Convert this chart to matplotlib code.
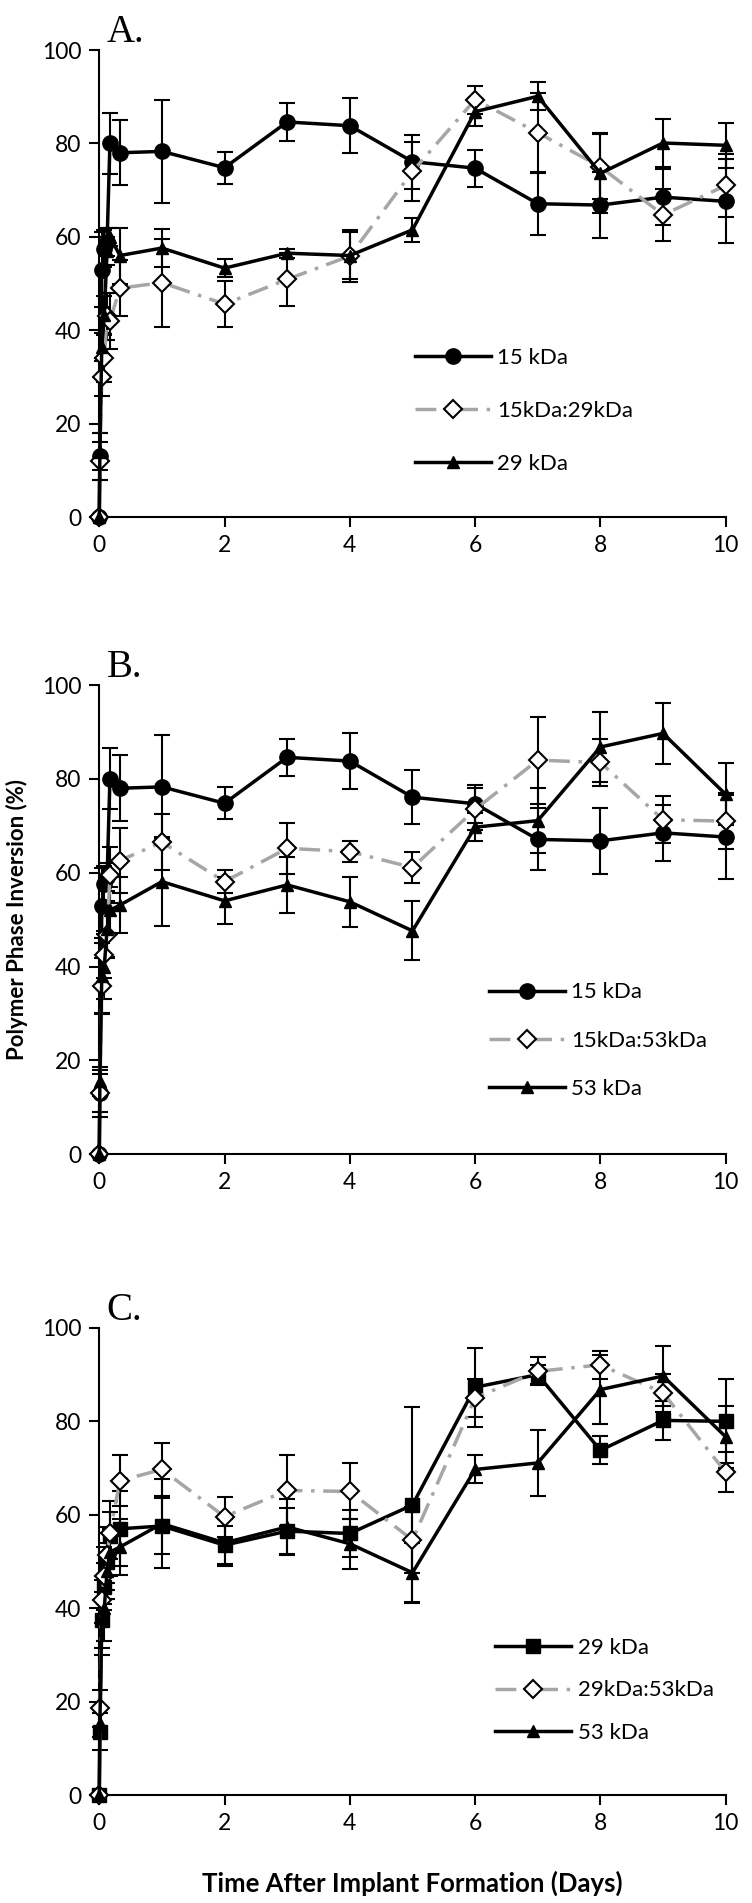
import matplotlib.pyplot as plt
from matplotlib.lines import Line2D
import numpy as np

plt.rcParams['font.family'] = ['Lato', 'DejaVu Sans']

# time points (days)
days = [0, 0.01, 0.04, 0.08, 0.125, 0.17, 0.33, 1, 2, 3, 4, 5, 6, 7, 8, 9, 10]

# panel A
a_15 = [0, 13, 53, 57.5, 59, 80, 78, 78.3, 74.8, 84.6, 83.8, 76.1, 74.7, 67.1, 66.8, 68.5, 67.6]
a_15_err = [0, 5, 8, 4, 3, 6.5, 7, 11, 3.4, 4, 5.9, 5.8, 4, 6.6, 7, 6, 9]
a_mix = [0, 12, 30, 34, 43, 42, 49, 50.2, 45.6, 50.9, 55.9, 74, 89.4, 82.3, 75, 64.7, 71]
a_mix_err = [0, 4, 4, 5, 5, 6, 6, 9.4, 5, 5.7, 5.5, 6.3, 3, 8.5, 7, 5.5, 6.7]
a_29 = [0, 14, 36.5, 43.3, 57, 60, 56, 57.6, 53.3, 56.5, 56, 61.5, 86.8, 90.1, 73.6, 80.1, 79.6]
a_29_err = [0, 4, 3, 4, 3, 2, 6, 4, 2, 1, 5, 2.5, 3, 3, 8.6, 5.2, 4.8]

# panel B
b_15 = a_15
b_15_err = a_15_err
b_mix = [0, 13, 35.8, 42.5, 46.8, 59.5, 62.6, 66.5, 58.1, 65.2, 64.5, 61.1, 73.5, 84, 83.5, 71.3, 71]
b_mix_err = [0, 4, 6, 5, 5, 6, 7, 6, 2.5, 5.5, 2.3, 3.3, 4.5, 9.3, 5, 5, 6]
b_53 = [0, 15.5, 38, 40, 48, 52, 53.1, 58.1, 54, 57.4, 53.8, 47.6, 69.7, 71.1, 86.8, 89.7, 76.7]
b_53_err = [0, 3, 8, 7, 6, 5, 6, 9.5, 5, 6, 5.3, 6.3, 3, 7, 7.4, 6.5, 6.6]

# panel C
c_29 = [0, 13.6, 37.5, 44.6, 50, 55.5, 57, 57.6, 53.5, 56.5, 56, 62.1, 87.3, 90, 73.8, 80.2, 80]
c_29_err = [0, 4, 6, 5, 6, 5, 8, 6, 4, 5, 5, 21, 8.5, 2, 3, 4.2, 9]
c_mix = [0, 18.6, 41.8, 47, 51.4, 56, 67.3, 69.7, 59.6, 65.2, 65, 54.6, 85, 90.7, 92.1, 86.1, 69.1]
c_mix_err = [0, 4, 5, 6, 6, 7, 5.4, 5.7, 4.3, 7.5, 6, 7, 4, 3, 3, 4, 4.3]
c_53 = b_53
c_53_err = b_53_err

GRAY = '#a6a6a6'
DASH = [6, 2.5, 1, 2.5]
MS = {'o': 11, '^': 8, 's': 10, 'D': 9}

panels = [
    ('A.', [(a_15, a_15_err, '15 kDa', 'o'), (a_mix, a_mix_err, '15kDa:29kDa', 'D'),
            (a_29, a_29_err, '29 kDa', '^')], (0.49, 0.382), 1.5),
    ('B.', [(b_15, b_15_err, '15 kDa', 'o'), (b_mix, b_mix_err, '15kDa:53kDa', 'D'),
            (b_53, b_53_err, '53 kDa', '^')], (0.608, 0.385), 1.27),
    ('C.', [(c_29, c_29_err, '29 kDa', 's'), (c_mix, c_mix_err, '29kDa:53kDa', 'D'),
            (c_53, c_53_err, '53 kDa', '^')], (0.618, 0.355), 1.0),
]

fig = plt.figure(figsize=(7.52, 19.03), dpi=100)
boxes = [(0.132, 0.7283, 0.833, 0.2454),
         (0.132, 0.3935, 0.833, 0.2465),
         (0.132, 0.0567, 0.833, 0.2455)]

for (label, series, leg_pos, leg_sp), box in zip(panels, boxes):
    ax = fig.add_axes(box)
    handles = []
    for vals, err, name, mk in series:
        if mk == 'D':
            line, caps, bars = ax.errorbar(days, vals, yerr=err, color=GRAY, lw=2.5,
                                           marker='D', ms=MS[mk], mfc='white', mec='black', mew=1.5,
                                           ecolor='black', elinewidth=1.5, capsize=6, capthick=1.5,
                                           clip_on=False, zorder=3)
            line.set_dashes(DASH)
            h = Line2D([], [], color=GRAY, lw=2.5, dashes=DASH, marker='D', ms=MS[mk],
                       mfc='white', mec='black', mew=1.5)
        else:
            ax.errorbar(days, vals, yerr=err, color='black', lw=2.5, marker=mk, ms=MS[mk],
                        mfc='black', mec='black', ecolor='black', elinewidth=1.5,
                        capsize=6, capthick=1.5, clip_on=False, zorder=3)
            h = Line2D([], [], color='black', lw=2.5, marker=mk, ms=MS[mk])
        handles.append((h, name))
    ax.set_xlim(0, 10)
    ax.set_ylim(0, 100)
    ax.set_xticks(np.arange(0, 11, 2))
    ax.set_yticks(np.arange(0, 101, 20))
    ax.spines['top'].set_visible(False)
    ax.spines['right'].set_visible(False)
    for s in ('left', 'bottom'):
        ax.spines[s].set_linewidth(1.5)
    ax.tick_params(direction='out', length=7, width=1.5, labelsize=16.5, pad=6)
    ax.text(0.012, 1.017, label, transform=ax.transAxes, fontsize=28,
            family='Liberation Serif', va='baseline', ha='left')
    ax.legend([h for h, n in handles], [n for h, n in handles], loc='upper left',
              bbox_to_anchor=leg_pos, frameon=False, fontsize=16, numpoints=1,
              handlelength=3.4, handletextpad=0.3, labelspacing=leg_sp, borderaxespad=0)
    if label == 'B.':
        ax.set_ylabel('Polymer Phase Inversion (%)', fontsize=16, fontweight='bold', labelpad=10)
    if label == 'C.':
        ax.set_xlabel('Time After Implant Formation (Days)', fontsize=18.5, fontweight='bold', labelpad=26)

fig.savefig('out.png', dpi=100)
